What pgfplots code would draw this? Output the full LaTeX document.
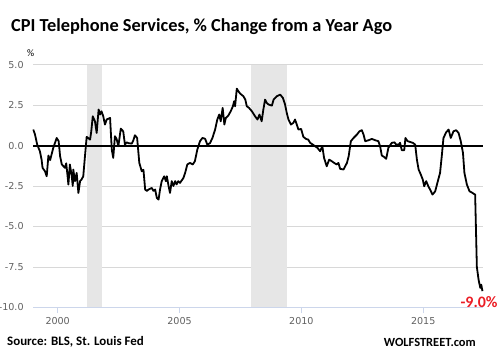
\documentclass[border=0pt]{standalone}
\usepackage{pgfplots}
\pgfplotsset{compat=1.18}
\usepackage{fontspec}
\setmainfont{DejaVu Sans}
\newfontfamily\calib{Carlito}
\definecolor{gridc}{RGB}{216,216,216}
\definecolor{recess}{RGB}{230,230,230}
\definecolor{axisc}{RGB}{204,214,235}
\definecolor{tickc}{RGB}{96,96,96}
\definecolor{redc}{RGB}{235,28,36}
\begin{document}
\begin{tikzpicture}
\useasboundingbox (0,0) rectangle (500bp,355bp);
\begin{axis}[
  at={(33.3bp,47.7bp)}, anchor=south west,
  scale only axis, width=449.4bp, height=242.6bp,
  xmin=1999, xmax=2017.44, ymin=-10, ymax=5,
  axis x line*=bottom, axis y line*=left,
  x axis line style={draw=axisc, line width=0.8pt},
  y axis line style={draw=none},
  xtick={2000,2005,2010,2015},
  xticklabels={2000,2005,2010,2015},
  ytick={-10,-7.5,-5,-2.5,0,2.5,5},
  yticklabels={-10.0,-7.5,-5.0,-2.5,0.0,2.5,5.0},
  ymajorgrids, grid style={draw=gridc, line width=0.7pt},
  xtick style={draw=axisc, line width=0.8pt},
  ytick style={draw=none},
  tick align=outside, major tick length=6bp,
  tick label style={font=\fontsize{9.6}{11}\selectfont, text=tickc},
  yticklabel style={inner sep=0pt, xshift=-3.5bp},
  xticklabel style={inner sep=0pt, yshift=-4bp},
  clip=false,
]
\addplot[fill=recess, draw=none] coordinates {(2001.19,-10) (2001.19,5) (2001.83,5) (2001.83,-10)} -- cycle;
\addplot[fill=recess, draw=none] coordinates {(2007.93,-10) (2007.93,5) (2009.43,5) (2009.43,-10)} -- cycle;
\addplot[black, line width=1.9bp] coordinates {(1999,0) (2017.44,0)};
\addplot[black, line width=1.8bp, line join=round] coordinates {
(1999.00,0.99) (1999.07,0.68) (1999.16,0.06) (1999.27,-0.35) (1999.34,-0.87) (1999.38,-1.38)
(1999.48,-1.59) (1999.55,-1.90) (1999.62,-0.62) (1999.69,-0.90) (1999.75,-0.55) (1999.82,-0.14)
(1999.96,0.47) (2000.04,0.27) (2000.10,-0.66) (2000.17,-1.17) (2000.24,-1.28) (2000.30,-1.38)
(2000.35,-1.10) (2000.40,-1.79) (2000.44,-2.41) (2000.50,-1.17) (2000.57,-1.80) (2000.62,-2.50)
(2000.64,-1.48) (2000.71,-2.20) (2000.78,-1.69) (2000.85,-2.93) (2000.92,-2.20) (2000.98,-2.10)
(2001.05,-1.90) (2001.12,-0.66) (2001.19,0.54) (2001.33,0.37) (2001.38,0.90) (2001.44,1.81)
(2001.53,1.50) (2001.60,0.78) (2001.68,2.23) (2001.74,1.92) (2001.80,2.12) (2001.87,1.81)
(2001.94,1.30) (2002.01,1.61) (2002.15,1.71) (2002.22,-0.25) (2002.28,-0.76) (2002.35,0.58)
(2002.42,0.40) (2002.49,-0.04) (2002.59,1.05) (2002.69,0.88) (2002.76,0.06) (2002.83,0.20)
(2002.90,0.15) (2003.04,0.12) (2003.10,0.30) (2003.17,0.64) (2003.26,0.47) (2003.35,-1.07)
(2003.45,-1.59) (2003.52,-1.50) (2003.59,-2.72) (2003.66,-2.80) (2003.73,-2.72) (2003.86,-2.62)
(2003.93,-2.80) (2004.00,-2.72) (2004.07,-3.24) (2004.14,-3.34) (2004.20,-2.72) (2004.27,-2.20)
(2004.37,-1.90) (2004.44,-2.20) (2004.48,-1.90) (2004.55,-2.50) (2004.61,-2.93) (2004.68,-2.20)
(2004.75,-2.50) (2004.82,-2.20) (2004.88,-2.40) (2004.95,-2.20) (2005.02,-2.31) (2005.16,-2.00)
(2005.23,-1.69) (2005.32,-1.17) (2005.43,-1.07) (2005.54,-1.17) (2005.63,-0.97) (2005.73,-0.25)
(2005.84,0.27) (2005.94,0.47) (2006.05,0.42) (2006.14,0.06) (2006.25,0.15) (2006.35,0.47)
(2006.46,0.99) (2006.55,1.61) (2006.63,1.92) (2006.69,1.50) (2006.77,2.33) (2006.84,1.30)
(2006.90,1.71) (2007.00,1.85) (2007.10,2.12) (2007.19,2.43) (2007.24,2.74) (2007.28,2.43)
(2007.35,3.52) (2007.42,3.35) (2007.49,3.21) (2007.62,3.05) (2007.70,2.84) (2007.76,2.43)
(2007.85,2.33) (2007.97,2.12) (2008.10,1.81) (2008.20,1.61) (2008.28,1.92) (2008.37,1.50)
(2008.44,2.23) (2008.51,2.84) (2008.58,2.64) (2008.65,2.54) (2008.79,2.47) (2008.86,2.84)
(2008.99,3.05) (2009.13,3.15) (2009.24,2.95) (2009.33,2.54) (2009.40,2.02) (2009.47,1.61)
(2009.57,1.30) (2009.67,1.40) (2009.74,1.61) (2009.81,1.30) (2009.88,0.99) (2009.99,1.03)
(2010.08,0.54) (2010.19,0.41) (2010.28,0.37) (2010.36,0.17) (2010.47,0.06) (2010.56,-0.04)
(2010.66,-0.14) (2010.77,-0.35) (2010.86,-0.04) (2010.93,-0.76) (2011.04,-1.28) (2011.14,-0.87)
(2011.25,-0.97) (2011.34,-1.07) (2011.45,-1.17) (2011.52,-1.07) (2011.59,-1.44) (2011.73,-1.48)
(2011.87,-1.07) (2011.94,-0.66) (2012.03,0.27) (2012.14,0.47) (2012.28,0.68) (2012.38,0.88)
(2012.48,0.95) (2012.55,0.68) (2012.62,0.27) (2012.76,0.33) (2012.89,0.41) (2013.03,0.33)
(2013.16,0.27) (2013.23,-0.04) (2013.30,-0.62) (2013.39,-0.70) (2013.48,-0.82) (2013.57,-0.14)
(2013.71,0.17) (2013.82,0.20) (2013.89,0.06) (2013.99,0.06) (2014.05,0.17) (2014.12,-0.29)
(2014.22,-0.29) (2014.27,0.47) (2014.36,0.27) (2014.47,0.22) (2014.57,0.17) (2014.67,0.06)
(2014.74,-0.87) (2014.81,-1.48) (2014.90,-1.79) (2014.98,-2.10) (2015.04,-2.52) (2015.12,-2.20)
(2015.21,-2.52) (2015.28,-2.72) (2015.38,-3.03) (2015.49,-2.83) (2015.58,-2.31) (2015.69,-1.69)
(2015.76,-0.66) (2015.83,0.47) (2015.94,0.82) (2016.04,0.99) (2016.13,0.47) (2016.24,0.88)
(2016.35,0.95) (2016.45,0.78) (2016.54,0.27) (2016.63,-0.45) (2016.69,-1.69) (2016.79,-2.41)
(2016.90,-2.83) (2016.98,-2.89) (2017.06,-2.97) (2017.13,-3.03) (2017.20,-7.50) (2017.27,-8.29)
(2017.34,-8.80) (2017.38,-8.60) (2017.43,-9.00)
};
\end{axis}
\node[anchor=base west, inner sep=0pt] at (11bp,323.3bp) {\calib\bfseries\fontsize{18.4}{20}\selectfont CPI Telephone Services, \% Change from a Year Ago};
\node[inner sep=0pt] at (30.7bp,301.7bp) {\calib\fontsize{10}{12}\selectfont \%};
\node[anchor=west, inner sep=0pt] at (7bp,13bp) {\calib\bfseries\fontsize{13}{15}\selectfont Source: BLS, St. Louis Fed};
\node[anchor=east, inner sep=0pt] at (476bp,13bp) {\calib\bfseries\fontsize{12.5}{14}\selectfont WOLFSTREET.com};
\node[inner sep=0pt, text=redc] at (479bp,53bp) {\calib\bfseries\fontsize{16}{18}\selectfont -9.0\%};
\end{tikzpicture}
\end{document}
